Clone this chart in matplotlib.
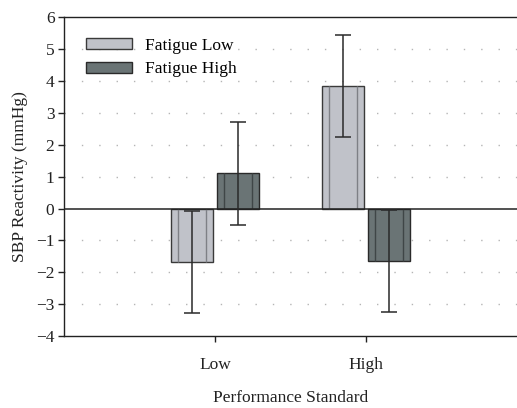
"""SBP reactivity by performance standard and fatigue level."""

import matplotlib.pyplot as plt
import numpy as np

# data
standards = ['Low', 'High']
series = ['Fatigue Low', 'Fatigue High']
fatigue_low = [-1.68, 3.85]
fatigue_high = [1.1, -1.63]
err_low = [1.6, 1.6]
err_high = [1.6, 1.6]

plt.rcParams['font.family'] = ['Liberation Serif', 'DejaVu Serif']

fig = plt.figure(figsize=(5.17, 4.08), dpi=100)
ax = fig.add_axes([0.124, 0.176, 0.876, 0.782])

pos = np.arange(1, len(standards) + 1)
width = 0.28
offset = 0.152

# dotted grid lines at each integer
for y in range(-3, 6):
	if y != 0:
		ax.axhline(y, color='#b5b5b5', lw=1.0, linestyle=(0, (1, 11.5)), zorder=0)

bars = []
bars.append(ax.bar(pos - offset, fatigue_low, width, color='#c0c2c9',
	edgecolor='#3a3a3a', linewidth=1.0, label=series[0], zorder=2))
bars.append(ax.bar(pos + offset, fatigue_high, width, color='#6a7475',
	edgecolor='#2a2a2a', linewidth=1.0, label=series[1], zorder=2))

# inner vertical lines give the bars their shaded look
for group, shade in zip(bars, ['#7e8086', '#3f4647']):
	for p in group.patches:
		x0, w, h = p.get_x(), p.get_width(), p.get_height()
		ax.vlines([x0 + 0.17 * w, x0 + 0.83 * w], 0, h, color=shade, lw=1.0, zorder=3)

ax.errorbar(pos - offset, fatigue_low, yerr=err_low, fmt='none', ecolor='#2a2a2a',
	elinewidth=1.1, capsize=5.8, capthick=1.1, zorder=4)
ax.errorbar(pos + offset, fatigue_high, yerr=err_high, fmt='none', ecolor='#2a2a2a',
	elinewidth=1.1, capsize=5.8, capthick=1.1, zorder=4)

ax.axhline(0, color='#222222', lw=1.1, zorder=3)

ax.set_xlim(0, 3)
ax.set_ylim(-4, 6)
ax.set_yticks(range(-4, 7))
ax.set_yticklabels([str(v).replace('-', '\u2212') for v in range(-4, 7)])
ax.set_xticks(pos)
ax.set_xticklabels(standards)

ax.spines['right'].set_visible(False)
for s in ['left', 'top', 'bottom']:
	ax.spines[s].set_color('#222222')
	ax.spines[s].set_linewidth(1.0)

ax.tick_params(axis='y', direction='out', length=4, width=1.0, labelsize=12.5, pad=3, colors='#222222')
ax.tick_params(axis='x', direction='out', length=4, width=1.0, labelsize=12.5, pad=11, colors='#222222')

ax.set_ylabel('SBP Reactivity (mmHg)', fontsize=12.5, color='#222222', labelpad=6)
ax.set_xlabel('Performance Standard', fontsize=12.5, color='#222222', labelpad=12)

ax.legend(loc='upper left', bbox_to_anchor=(0.048, 0.936), frameon=False, fontsize=12.5,
	borderpad=0, borderaxespad=0, handlelength=2.65, handleheight=0.6,
	handletextpad=0.75, labelspacing=0.45)

fig.savefig('out.png', dpi=100)
